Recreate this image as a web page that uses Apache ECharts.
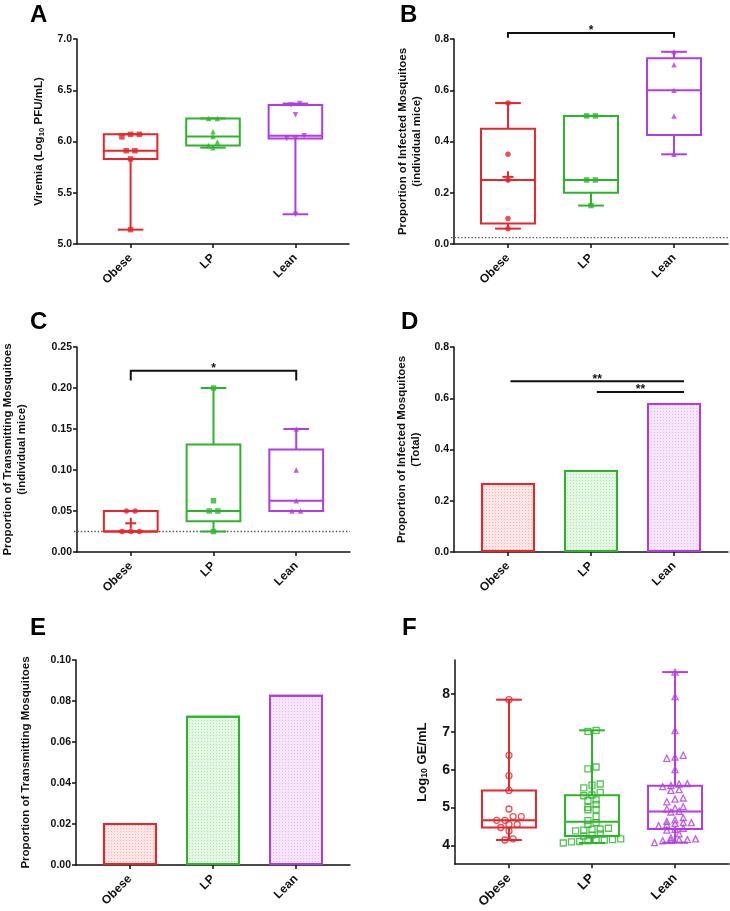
<!DOCTYPE html>
<html><head><meta charset="utf-8">
<script src="https://cdn.jsdelivr.net/npm/echarts@6/dist/echarts.min.js"></script>
<style>html,body{margin:0;padding:0;background:#fff}#c{width:730px;height:911px}</style>
</head><body><div id="c"></div>
<script>
// ---------------- DATA ----------------
const categories = ['Obese', 'LP', 'Lean'];

// Panel A: viremia (Log10 PFU/mL), individual mice
const aObese = [6.07, 6.07, 6.045, 5.91, 5.91, 5.83, 5.14];
const aLP    = [6.225, 6.225, 6.095, 6.05, 5.995, 5.96, 5.94];
const aLean  = [6.37, 6.355, 6.26, 6.055, 6.03, 6.03, 5.29];
const aTicks = [5.0, 5.5, 6.0, 6.5, 7.0];

// Panel B: proportion of infected mosquitoes (individual mice)
const bObese = [0.55, 0.35, 0.25, 0.10, 0.06];
const bLP    = [0.50, 0.50, 0.25, 0.25, 0.15];
const bLean  = [0.75, 0.70, 0.60, 0.50, 0.35];
const bLimit = [0.025];
const bSig   = [[0, 2, 0.823, 0.805]];
const bSigLabels = ['*'];
const bTicks = [0.0, 0.2, 0.4, 0.6, 0.8];

// Panel C: proportion of transmitting mosquitoes (individual mice)
const cObese = [0.05, 0.05, 0.025, 0.025, 0.025];
const cLP    = [0.20, 0.0625, 0.05, 0.05, 0.025];
const cLean  = [0.15, 0.10, 0.0625, 0.05, 0.05];
const cLimit = [0.025];
const cSig   = [[0, 2, 0.221, 0.209]];
const cSigLabels = ['*'];
const cTicks = [0.00, 0.05, 0.10, 0.15, 0.20, 0.25];

// Panel D: proportion of infected mosquitoes (total)
const dTotal = [0.269, 0.320, 0.581];
const dSig   = [[0.03, 2.12, 0.666, 0.666], [1.07, 2.12, 0.624, 0.624]];
const dSigLabels = ['**', '**'];
const dTicks = [0.0, 0.2, 0.4, 0.6, 0.8];

// Panel E: proportion of transmitting mosquitoes (total)
const eTotal = [0.0205, 0.0728, 0.0831];
const eTicks = [0.00, 0.02, 0.04, 0.06, 0.08, 0.10];

// Panel F: Log10 GE/mL
const fObese = [7.85, 6.38, 5.84, 5.45, 4.96, 4.76, 4.76, 4.66, 4.66, 4.55, 4.55, 4.47, 4.38, 4.17, 4.14];
const fLP = [7.04, 7.01, 6.07, 6.02, 5.62, 5.59, 5.52, 5.40, 5.33, 5.31, 5.20, 5.19, 5.08, 5.00, 4.95, 4.94,
             4.76, 4.65, 4.60, 4.55, 4.45, 4.43, 4.42, 4.40, 4.38, 4.30, 4.27, 4.24, 4.17, 4.15, 4.14, 4.13,
             4.12, 4.10, 4.09, 4.06];
const fLean = [8.58, 7.93, 7.03, 6.38, 6.33, 6.30, 6.00, 5.63, 5.62, 5.58, 5.55, 5.47, 5.45, 5.25, 5.22, 5.15,
               5.02, 4.98, 4.96, 4.90, 4.88, 4.73, 4.67, 4.63, 4.60, 4.60, 4.58, 4.55, 4.52, 4.45, 4.42, 4.40,
               4.30, 4.20, 4.17, 4.15, 4.15, 4.13, 4.12, 4.07];
const fTicks = [4, 5, 6, 7, 8];

// ---------------- STYLE / HELPERS ----------------
const FONT = "'Liberation Sans', Arial, Helvetica, sans-serif";
const INK = '#111';
const colors = ['#e5262c', '#2db42d', '#b13ce0'];
const tints  = ['#fce6e6', '#e4f6e4', '#f5e6fb'];
const decalColors = ['rgba(229,38,44,0.28)', 'rgba(45,180,45,0.28)', 'rgba(177,60,224,0.28)'];
const X_MIN = -0.65, X_MAX = 2.65;

function quant(asc, p) {
  const n = asc.length;
  let pos = p * (n + 1);
  pos = Math.max(1, Math.min(n, pos));
  const lo = Math.floor(pos), fr = pos - lo;
  const a = asc[lo - 1], b = asc[Math.min(lo, n - 1)];
  return a + fr * (b - a);
}
function boxStats(vals, k) {
  const s = vals.slice().sort((a, b) => a - b);
  return [k, s[0], quant(s, 0.25), quant(s, 0.5), quant(s, 0.75), s[s.length - 1]];
}
function mean(vals) { return vals.reduce((a, b) => a + b, 0) / vals.length; }

// GraphPad-like horizontal spreading of points that share (nearly) the same value
function swarm(vals, k, pxPerX, pxPerY, rowPx, spacePx) {
  const desc = vals.slice().sort((a, b) => b - a);
  const rows = [];
  let cur = null;
  desc.forEach(v => {
    if (cur && (cur.top - v) * pxPerY < rowPx) cur.items.push(v);
    else { cur = { top: v, items: [v] }; rows.push(cur); }
  });
  const pts = [];
  rows.forEach(r => {
    const items = r.items.slice().sort((a, b) => a - b);
    const n = items.length;
    items.forEach((v, i) => pts.push([k + (i - (n - 1) / 2) * spacePx / pxPerX, v]));
  });
  return pts;
}

const panels = [
  { letter: 'A', grid: { left: 77, top: 39, width: 272, height: 205 },
    y: { min: 5, max: 7, ticks: aTicks, dec: 1 },
    name: '{t|Viremia (Log}{s|10}{t| PFU/mL)}', nameGap: 31, nameSize: 11.5,
    groups: [aObese, aLP, aLean], symbols: ['rect', 'triangle', 'triangle'], rot: [0, 0, 180],
    symSize: 5.5, hollow: false, xFont: 12, yFont: 10.5, letterPos: [30, 3] },
  { letter: 'B', grid: { left: 454, top: 39, width: 274, height: 205 },
    y: { min: 0, max: 0.8, ticks: bTicks, dec: 1 },
    name: 'Proportion of Infected Mosquitoes\n(individual mice)', nameGap: 30, nameSize: 11.5,
    groups: [bObese, bLP, bLean], symbols: ['circle', 'rect', 'triangle'], rot: [0, 0, 0],
    symSize: 5.5, hollow: false, mean: [0], limit: bLimit, sig: bSig, sigLabels: bSigLabels,
    xFont: 12, yFont: 10.5, letterPos: [400, 3] },
  { letter: 'C', grid: { left: 76, top: 347, width: 274, height: 205 },
    y: { min: 0, max: 0.25, ticks: cTicks, dec: 2 },
    name: 'Proportion of Transmitting Mosquitoes\n(individual mice)', nameGap: 48, nameSize: 11.5,
    groups: [cObese, cLP, cLean], symbols: ['circle', 'rect', 'triangle'], rot: [0, 0, 0],
    symSize: 5.5, hollow: false, mean: [0], limit: cLimit, sig: cSig, sigLabels: cSigLabels,
    xFont: 12, yFont: 10.5, letterPos: [30, 310] },
  { letter: 'D', grid: { left: 454, top: 347, width: 274, height: 205 },
    y: { min: 0, max: 0.8, ticks: dTicks, dec: 1 },
    name: 'Proportion of Infected Mosquitoes\n(Total)', nameGap: 31, nameSize: 11.5,
    bars: dTotal, sig: dSig, sigLabels: dSigLabels, xFont: 12, yFont: 10.5, letterPos: [401, 310] },
  { letter: 'E', grid: { left: 76, top: 660, width: 274, height: 205 },
    y: { min: 0, max: 0.1, ticks: eTicks, dec: 2 },
    name: 'Proportion of Transmitting Mosquitoes', nameGap: 43, nameSize: 11.5,
    bars: eTotal, xFont: 12, yFont: 10.5, letterPos: [30, 616] },
  { letter: 'F', grid: { left: 455, top: 660, width: 274, height: 205 },
    y: { min: 3.5, max: 8.9, ticks: fTicks, dec: 0 },
    name: '{t|Log}{s|10}{t| GE/mL}', nameGap: 26, nameSize: 13,
    groups: [fObese, fLP, fLean], symbols: ['circle', 'rect', 'triangle'], rot: [0, 0, 0],
    symSize: 6, hollow: true, rowPx: 4.5, spacePx: 8.2,
    xFont: 13, yFont: 14, letterPos: [402, 616] }
];

const option = { animation: false, backgroundColor: '#fff', grid: [], xAxis: [], yAxis: [], series: [], graphic: [] };
const lineStyle = { color: INK, width: 1.5 };

panels.forEach((p, i) => {
  option.grid.push(Object.assign({ containLabel: false }, p.grid));
  const pxPerX = p.grid.width / (X_MAX - X_MIN);
  const pxPerY = p.grid.height / (p.y.max - p.y.min);

  option.xAxis.push({
    gridIndex: i, type: 'value', min: X_MIN, max: X_MAX,
    axisLine: { show: true, onZero: false, lineStyle },
    axisTick: { show: true, customValues: [0, 1, 2], length: 4, lineStyle },
    axisLabel: { show: true, customValues: [0, 1, 2], formatter: v => categories[Math.round(v)],
      rotate: 45, margin: 12, fontSize: p.xFont, fontWeight: 'bold', fontFamily: FONT, color: INK },
    splitLine: { show: false }
  });

  const rich = {
    t: { fontSize: p.nameSize, fontWeight: 'bold', fontFamily: FONT, color: INK },
    s: { fontSize: p.nameSize * 0.68, fontWeight: 'bold', fontFamily: FONT, color: INK, verticalAlign: 'bottom', padding: [4, 0, 0, 0] }
  };
  option.yAxis.push({
    gridIndex: i, type: 'value', min: p.y.min, max: p.y.max,
    axisLine: { show: true, onZero: false, lineStyle },
    axisTick: { show: true, customValues: p.y.ticks, length: 4, lineStyle },
    axisLabel: { show: true, customValues: p.y.ticks, formatter: v => Number(v).toFixed(p.y.dec),
      margin: 5, fontSize: p.yFont, fontWeight: 'bold', fontFamily: FONT, color: INK },
    splitLine: { show: false },
    name: p.name, nameLocation: 'middle', nameGap: p.nameGap,
    nameTextStyle: { fontSize: p.nameSize, fontWeight: 'bold', fontFamily: FONT, color: INK, lineHeight: 14, rich }
  });

  // panel letter
  option.graphic.push({ type: 'text', left: p.letterPos[0], top: p.letterPos[1],
    style: { text: p.letter, font: 'bold 24px ' + FONT, fill: '#000' } });

  // detection limit dotted line
  if (p.limit) {
    option.series.push({
      type: 'custom', xAxisIndex: i, yAxisIndex: i, silent: true, z: 1, clip: false,
      data: p.limit.map(v => [0, v]), encode: { x: 0, y: 1 },
      renderItem: (params, api) => {
        const cs = params.coordSys;
        const y = api.coord([0, api.value(1)])[1];
        return { type: 'line', shape: { x1: cs.x - 3, y1: y, x2: cs.x + cs.width, y2: y },
          style: { stroke: '#555', lineWidth: 1.3, lineDash: [1.4, 2] } };
      }
    });
  }

  // box plots
  if (p.groups) {
    const stats = p.groups.map((g, k) => boxStats(g, k));
    option.series.push({
      type: 'custom', xAxisIndex: i, yAxisIndex: i, silent: true, z: 2, clip: false,
      data: stats, encode: { x: 0, y: [1, 2, 3, 4, 5] },
      renderItem: (params, api) => {
        const k = api.value(0);
        const col = colors[k];
        const c = v => api.coord([k, v]);
        const pMin = c(api.value(1)), pQ1 = c(api.value(2)), pMd = c(api.value(3)), pQ3 = c(api.value(4)), pMax = c(api.value(5));
        const cx = pMd[0];
        const bw = api.size([0.65, 0])[0] / 2;
        const cw = api.size([0.31, 0])[0] / 2;
        const st = { stroke: col, lineWidth: 2, fill: null };
        return { type: 'group', children: [
          { type: 'line', shape: { x1: cx, y1: pQ3[1], x2: cx, y2: pMax[1] }, style: st },
          { type: 'line', shape: { x1: cx, y1: pQ1[1], x2: cx, y2: pMin[1] }, style: st },
          { type: 'line', shape: { x1: cx - cw, y1: pMax[1], x2: cx + cw, y2: pMax[1] }, style: st },
          { type: 'line', shape: { x1: cx - cw, y1: pMin[1], x2: cx + cw, y2: pMin[1] }, style: st },
          { type: 'rect', shape: { x: cx - bw, y: pQ3[1], width: 2 * bw, height: pQ1[1] - pQ3[1] }, style: st },
          { type: 'line', shape: { x1: cx - bw, y1: pMd[1], x2: cx + bw, y2: pMd[1] }, style: st }
        ] };
      }
    });
    // individual points
    p.groups.forEach((g, k) => {
      option.series.push({
        type: 'scatter', xAxisIndex: i, yAxisIndex: i, silent: true, z: 4,
        symbol: p.symbols[k], symbolRotate: p.rot[k], symbolSize: p.symSize,
        data: swarm(g, k, pxPerX, pxPerY, p.rowPx || 4.5, p.spacePx || 8.7),
        itemStyle: p.hollow
          ? { color: 'rgba(255,255,255,0)', borderColor: colors[k], borderWidth: 1.3 }
          : { color: colors[k], borderWidth: 0 }
      });
    });
    // mean "+"
    if (p.mean) {
      option.series.push({
        type: 'custom', xAxisIndex: i, yAxisIndex: i, silent: true, z: 5, clip: false,
        data: p.mean.map(k => [k, mean(p.groups[k])]), encode: { x: 0, y: 1 },
        renderItem: (params, api) => {
          const k = api.value(0);
          const pt = api.coord([k, api.value(1)]);
          const st = { stroke: colors[k], lineWidth: 2 };
          return { type: 'group', children: [
            { type: 'line', shape: { x1: pt[0] - 5.5, y1: pt[1], x2: pt[0] + 5.5, y2: pt[1] }, style: st },
            { type: 'line', shape: { x1: pt[0], y1: pt[1] - 5.5, x2: pt[0], y2: pt[1] + 5.5 }, style: st }
          ] };
        }
      });
    }
  }

  // bars
  if (p.bars) {
    option.series.push({
      type: 'bar', xAxisIndex: i, yAxisIndex: i, silent: true, z: 2, barWidth: 54,
      data: p.bars.map((v, k) => ({ value: [k, v], itemStyle: {
        color: tints[k], borderColor: colors[k], borderWidth: 2,
        decal: { symbol: 'rect', symbolSize: 1, dashArrayX: [1, 2], dashArrayY: [1, 2], color: decalColors[k] }
      } }))
    });
  }

  // significance brackets
  if (p.sig) {
    option.series.push({
      type: 'custom', xAxisIndex: i, yAxisIndex: i, silent: true, z: 6, clip: false,
      data: p.sig, encode: { x: [0, 1], y: [2, 3] },
      renderItem: (params, api) => {
        const x1 = api.value(0), x2 = api.value(1), y = api.value(2), yd = api.value(3);
        const a = api.coord([x1, yd]), b = api.coord([x1, y]), c2 = api.coord([x2, y]), d = api.coord([x2, yd]);
        const mid = api.coord([(x1 + x2) / 2, y]);
        return { type: 'group', children: [
          { type: 'polyline', shape: { points: [a, b, c2, d] }, style: { stroke: INK, lineWidth: 2, fill: null } },
          { type: 'text', x: mid[0], y: mid[1] + 4, style: { text: p.sigLabels[params.dataIndex],
            font: 'bold 12px ' + FONT, fill: INK, align: 'center', verticalAlign: 'bottom' } }
        ] };
      }
    });
  }
});

const chart = echarts.init(document.getElementById('c'), null, { renderer: 'canvas' });
chart.setOption(option);
</script>
</body></html>
